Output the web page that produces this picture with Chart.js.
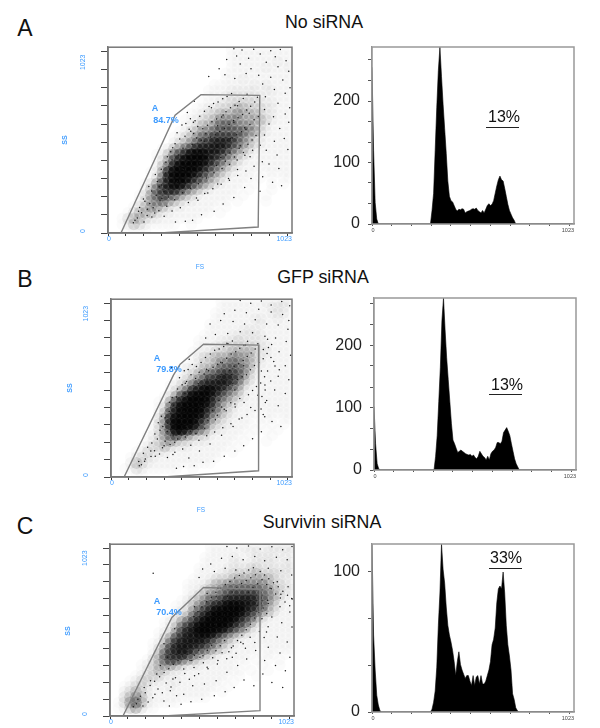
<!DOCTYPE html>
<html>
<head>
<meta charset="utf-8">
<script src="https://cdn.jsdelivr.net/npm/chart.js@4"></script>
<style>
html,body{margin:0;padding:0;background:#fff;overflow:hidden}
#page{position:relative;width:600px;height:728px;overflow:hidden;font-family:"Liberation Sans",Arial,sans-serif}
canvas{position:absolute}
.t{position:absolute;transform:translate(-50%,-50%);white-space:nowrap;color:#111}
.blue{color:#3d9bff}
.rule{position:absolute;height:1px;background:#222}
</style>
</head>
<body>
<div id="page"></div>
<script>
// values
const axisTicks = [0,100,200,300,400,500,600,700,800,900,1000];
const histTicksAB = [0,33,67,100,133,167,200,233,267];
const histTicksC = [0,33,67,100];
const histLabelsAB = [0,100,200];
const histLabelsC = [0,100];
const binWidth = 8;

const histA = [255,120,35,8,0,0,0,0,0,0,0,0,0,0,0,0,0,0,0,0,0,0,0,0,0,0,0,0,0,0,0,0,0,0,0,0,0,0,22,50,120,190,250,288,240,195,155,115,70,45,38,36,30,24,21,24,23,25,24,18,20,21,22,24,25,24,26,22,20,18,22,18,24,30,33,30,32,38,50,62,72,78,72,70,58,45,32,22,16,10,6,0,0,0,0,0,0,0,0,0,0,0,0,0,0,0,0,0,0,0,0,0,0,0,0,0,0,0,0,0,0,0,0,0,0,0,0,0];
const histB = [102,42,10,2,0,0,0,0,0,0,0,0,0,0,0,0,0,0,0,0,0,0,0,0,0,0,0,0,0,0,0,0,0,0,0,0,0,0,0,22,55,110,165,240,276,225,180,145,110,75,48,42,35,28,30,32,30,28,26,25,24,25,22,24,20,18,22,30,26,22,20,16,22,16,26,30,32,36,44,44,42,46,60,64,68,62,55,42,30,18,10,5,0,0,0,0,0,0,0,0,0,0,0,0,0,0,0,0,0,0,0,0,0,0,0,0,0,0,0,0,0,0,0,0,0,0,0,0];
const histC = [120,55,30,12,5,1,0,0,0,0,0,0,0,0,0,0,0,0,0,0,0,0,0,0,0,0,0,0,0,0,0,0,0,0,0,0,0,0,2,7,15,32,62,85,120,102,92,75,62,55,50,44,36,26,36,43,34,30,27,24,26,26,22,19,26,19,25,26,20,26,20,20,22,26,30,36,48,52,60,78,88,90,88,100,85,62,48,40,30,13,9,3,1,0,0,0,0,0,0,0,0,0,0,0,0,0,0,0,0,0,0,0,0,0,0,0,0,0,0,0,0,0,0,0,0,0,0,0];

// gate outlines, FS / SS channels
const gateA = [[72,0],[373,648],[517,762],[844,758],[835,33],[290,0]];
const gateB = [[74,0],[353,586],[391,649],[523,764],[836,759],[834,36],[296,0]];
const gateC = [[72,0],[344,587],[520,765],[834,755],[834,32],[298,0]];

// event density on a 32 x 32 grid, top row first, 0 empty to 9 darkest
const densityA = [
"00000000000000000000011111111111","00000000000000000000011111111111","00000000000000000000011111111211","00000000000000000000011111121112",
"00000000000000000000111111111111","00000000000000000000111211111111","00000000000000000011111112121111","00000000000000000111122222122111",
"00000000000000000111222222211111","00000000000000001112233333222111","00000000000000011223334433322111","00000000000000112334445444322111",
"00000000000001123345555444432111","00000000000001234456665554321111","00000000000012345566666655321111","00000000000123456677776543211111",
"00000000000234567788876543211111","00000000012456788888765432111111","00000000124678999887654321111111","00000000135789999876543211111111",
"00000000246899998765432111111111","00000001258999987654321111011111","00000001368999876543211110101011","00000013578998765432111101001010",
"00000024678876543211111010001000","00000135676654321111110100010000","00000235565432211111101000010000","00001345543221111110100000000000",
"00013444322111111101000000000000","00134432211111110000000000000000","00124321111100100000000000000000","00011110000000000000000000000000"];
const densityB = [
"00000000000000000001111111121222","00000000000000000001111111112221","00000000000000000011111111112221","00000000000000000011111112211211",
"00000000000000000111111111211111","00000000000000000111111222111111","00000000000000001111122222211111","00000000000000011112223222211111",
"00000000000000011122333333221111","00000000000000112233344443221111","00000000000000123344455443211111","00000000000001123345565543211111",
"00000000000012234456666542111111","00000000000012345667776532111111","00000000000123456778876431111111","00000000001234678888765321111111",
"00000000002356889987654211111111","00000000013578999876543211111111","00000000125789999865432111111111","00000000136899998764321111111111",
"00000000247899998654321111011111","00000000358999987543211110111011","00000001358999976432211110101010","00000001357998765322111101010100",
"00000012356765433211111010001000","00000012345433222111110100010000","00000123343222111111101000000000","00001232221111111111010000000000",
"00012322111111111110000000000000","00024321111111111100000000000000","00113211111100100000000000000000","00001100000000000000000000000000"];
const densityC = [
"00000000000000000111111212122222","00000000000000000111111122121212","00000000000000001111121112222121","00000000000000001111122122222122",
"00000000000000011111222233222222","00000000000000011112233334333222","00000000000000111233344444443221","00000000000001112344555555543322",
"00000000000001123445666666554322","00000000000001234556677777654321","00000000000012345667888887654211","00000000000112456788999887643211",
"00000000000123567899999876543111","00000000001234678999998765321111","00000000012356789999987653211111","00000000012467899999876532111111",
"00000000123578899987654321111111","00000000135778888765432111111111","00000001246788887654321111111111","00000001357888766543211111011111",
"00000002467787654321111110111010","00000013467765432211111101010100","00000123455432221111110100100100","00000123432221111111111010010000",
"00001233322111111111101001000000","00012332211211111111010000000000","00123321112111111110100000000000","00234321111111111101000000000000",
"00345421111111111000000000000000","01356421111100000000000000000000","01245311000000000000000000000000","00011000000000000000000000000000"];

// single events, outliers first and then the speckle along the cloud
const dotsA = [[700,1015],[745,1008],[810,1012],[905,1004],[958,1010],[660,955],[715,975],[782,962],[846,985],[930,970],[990,948],[618,905],[735,930],[795,905],[880,940],[945,915],[1005,890],[560,862],[650,872],[705,850],[768,878],[838,868],[905,858],[972,842],[1012,800],[860,820],[925,790],[985,770],[875,750],[945,715],[1010,690],[870,680],[920,640],[985,655],[895,600],[955,575],[1005,610],[870,540],[925,505],[980,520],[880,455],[940,430],[1000,460],[895,380],[950,355],[860,310],[915,280],[965,260],[845,230],[795,300],[760,250],[700,195],[640,160],[590,120],[520,100],[470,70],[430,65],[375,60],[720,350],[670,300],[610,270],[555,220],[500,180],[790,420],[735,480],[680,520],[610,590],[575,690],[640,650],[700,610],[760,580],[480,725],[400,405],[360,470],[320,330],[285,255],[205,175],[170,120],[460,560],[535,505],[420,350],[600,440],[655,430],[510,385],[450,340],[385,285],[330,420],[720,700],[785,660],[475,610],[360,300],[470,440],[540,400],[590,500],[300,190],[150,70],[200,60],[260,110],
[163,83],[187,112],[141,57],[218,97],[176,141],[232,163],[251,139],[197,187],[268,208],[243,231],[289,177],[311,229],[227,256],[274,283],[336,198],[298,264],[352,247],[319,301],[263,322],[381,276],[341,338],[408,253],[296,351],[367,329],[429,308],[384,371],[322,389],[451,281],[412,352],[356,402],[473,337],[438,391],[391,429],[349,447],[498,312],[461,418],[417,467],[373,491],[524,368],[487,402],[443,452],[399,518],[551,341],[509,441],[468,487],[428,533],[384,552],[578,397],[537,436],[492,523],[451,571],[411,594],[603,372],[562,468],[518,511],[476,548],[433,603],[627,416],[588,459],[544,547],[499,586],[458,629],[652,395],[613,483],[571,528],[527,574],[484,618],[441,664],[678,441],[639,489],[596,541],[553,593],[510,643],[703,419],[664,511],[621,559],[578,612],[536,671],[729,467],[691,523],[648,576],[604,628],[562,696],[753,443],[716,541],[673,597],[631,639],[587,713],[778,489],[742,558],[698,619],[656,668],[612,721],[801,512],[767,571],[723,634],[681,689],[638,739],[823,537],[789,598],[748,652],[706,703],[662,752],[812,623],[771,677],[729,724],[687,768],[836,641],[793,698],[752,741],[816,721],[773,764],[831,748],[219,131],[244,88],[283,122],[327,147],[371,183],[415,222],[459,246],[503,271],[547,303],[589,332],[634,355],[676,377],[718,402],[761,428],[804,455],[846,483],[312,92],[356,121],[402,139],[447,168],[492,193],[538,218],[583,243],[629,268],[675,291],[721,316],[767,342],[812,367],[858,392]];
const dotsB = [[730,1015],[790,1000],[850,1012],[905,990],[965,1010],[1010,985],[640,940],[700,960],[765,945],[835,965],[905,950],[970,935],[1005,900],[560,880],[620,900],[690,895],[755,880],[815,905],[880,880],[945,875],[1000,850],[535,800],[590,820],[660,825],[730,835],[800,830],[870,810],[930,800],[990,780],[890,745],[950,720],[1015,700],[860,680],[920,665],[985,640],[885,610],[945,580],[1005,560],[870,530],[925,500],[985,480],[880,440],[945,410],[860,360],[910,320],[960,290],[850,260],[800,220],[750,180],[700,150],[640,120],[580,90],[520,85],[470,65],[410,60],[370,50],[830,470],[790,400],[740,340],[690,290],[625,240],[560,190],[500,150],[440,110],[700,420],[640,390],[590,330],[530,280],[480,250],[420,230],[360,200],[300,180],[190,90],[160,65],[320,310],[285,350],[370,460],[330,430],[420,540],[620,540],[560,470],[480,510],[750,640],[680,590],[620,660],[540,620],[460,420],[400,330],[350,130],[250,120],[225,150],[700,500],[610,440],[510,410],[420,440],[655,770],[760,760],[340,630],
[172,71],[194,103],[157,89],[226,118],[183,137],[246,151],[207,171],[274,132],[231,196],[262,218],[291,169],[248,247],[306,206],[277,269],[334,187],[293,291],[351,238],[318,262],[267,312],[377,219],[339,307],[401,262],[306,341],[361,351],[426,291],[388,339],[329,377],[449,263],[413,378],[354,413],[472,324],[436,411],[395,443],[346,458],[497,296],[463,389],[418,481],[376,507],[521,352],[486,431],[441,468],[402,531],[548,327],[509,459],[467,506],[427,549],[387,571],[574,382],[533,447],[493,537],[452,588],[414,612],[601,356],[559,481],[517,526],[478,567],[436,619],[626,403],[586,471],[543,563],[498,603],[459,647],[651,381],[612,497],[569,546],[526,592],[483,636],[442,678],[677,427],[638,503],[595,559],[552,611],[509,659],[702,403],[663,527],[620,577],[577,631],[534,687],[728,451],[689,539],[646,593],[603,649],[561,708],[752,428],[714,561],[671,613],[629,657],[586,729],[777,473],[741,577],[696,637],[654,683],[611,737],[800,497],[766,589],[722,651],[679,707],[637,751],[822,521],[788,617],[747,671],[705,721],[661,767],[811,641],[770,693],[728,741],[686,783],[835,659],[792,713],[751,758],[815,737],[772,781],[830,766],[850,610],[868,577],[846,541],[871,501],[853,463],[872,428],[848,391],[869,347],[885,793],[908,763],[861,733],[882,711],[904,687],[927,639],[951,617],[903,553],[319,112],[361,143],[405,161],[451,183],[497,211],[541,237],[586,259],[632,283],[678,307],[724,333],[769,359],[814,383]];
const dotsC = [[650,1010],[705,1000],[770,1012],[835,995],[900,1008],[960,990],[1012,1010],[560,905],[620,940],[680,950],[740,930],[805,950],[860,925],[925,945],[985,930],[515,875],[580,860],[640,880],[700,870],[880,880],[950,865],[1010,840],[495,825],[930,800],[990,770],[890,760],[950,725],[1010,700],[880,670],[945,650],[1000,620],[900,590],[955,555],[1012,530],[870,500],[930,470],[985,440],[880,410],[945,375],[1000,350],[860,330],[920,300],[975,270],[850,250],[900,200],[960,170],[800,180],[745,215],[690,170],[640,145],[580,120],[510,100],[450,85],[395,70],[330,60],[280,300],[320,350],[260,250],[225,210],[190,170],[155,100],[130,55],[350,220],[410,280],[470,240],[525,190],[590,210],[650,260],[710,300],[760,340],[810,390],[740,430],[680,350],[600,330],[540,290],[455,330],[390,380],[335,150],[410,130],[460,180],[500,350],[250,130],[300,90],[370,120],[240,850],[620,640],[560,600],[680,555],[760,700],[820,660],[430,470],[480,420],[360,520],[300,430],[600,760],[540,730],[470,650],[590,710],
[183,59],[147,73],[212,84],[169,117],[238,109],[196,139],[267,161],[223,182],[291,139],[248,207],[312,197],[276,233],[339,173],[301,259],[364,228],[327,281],[389,201],[352,307],[416,253],[378,331],[441,219],[403,357],[467,289],[429,383],[493,251],[355,409],[519,317],[453,409],[383,435],[545,281],[478,437],[411,461],[571,347],[503,463],[439,487],[597,309],[529,489],[466,513],[623,377],[556,519],[492,541],[649,341],[583,547],[519,569],[467,593],[675,407],[609,573],[546,597],[489,621],[701,373],[637,601],[573,627],[511,649],[727,439],[663,629],[601,653],[537,681],[753,403],[691,657],[627,683],[563,707],[779,469],[717,683],[653,711],[589,737],[805,437],[743,711],[679,739],[615,761],[831,503],[769,737],[705,763],[641,783],[857,467],[795,763],[731,789],[667,801],[879,531],[821,787],[757,807],[693,821],[845,811],[783,823],[719,837],[871,783],[809,841],[745,851],[897,757],[835,861],[771,869],[921,727],[859,839],[797,883],[947,703],[883,817],[973,679],[909,793],[999,657],[935,769],[961,743],[987,719],[1013,697],[845,579],[871,611],[851,643],[876,689],[829,617],[805,583],[781,547],[757,513],[733,481],[709,449],[685,417],[661,383],[637,449],[613,419],[589,389],[565,421],[541,391],[517,359],[493,391],[469,361],[445,331]];

const densityShade = [0,.015,.03,.06,.11,.17,.25,.35,.48,.65];

const page = document.getElementById('page');

function addText(text,x,y,size,cls,extra){
  const d = document.createElement('div');
  d.className = 't '+(cls||'');
  d.textContent = text;
  d.style.left = x+'px';
  d.style.top = y+'px';
  d.style.fontSize = size+'px';
  if(extra) d.style.cssText += extra;
  page.appendChild(d);
}
function addRule(x1,x2,y){
  const d = document.createElement('div');
  d.className = 'rule';
  d.style.left = x1+'px';
  d.style.top = y+'px';
  d.style.width = (x2-x1)+'px';
  page.appendChild(d);
}
function addCanvas(l,t,w,h){
  const c = document.createElement('canvas');
  c.width = w; c.height = h;
  c.style.left = l+'px'; c.style.top = t+'px';
  c.style.width = w+'px'; c.style.height = h+'px';
  page.appendChild(c);
  return c;
}

const frame = color => ({
  id:'frame',
  afterDraw(chart){
    const a = chart.chartArea, g = chart.ctx;
    g.save();
    g.strokeStyle = color; g.lineWidth = 1.5;
    g.strokeRect(a.left,a.top,a.right-a.left,a.bottom-a.top);
    g.restore();
  }
});

function scatterPanel(b,density,dots,gate){
  const left = 50, top = 10, right = 10, bottom = 30;
  const canvas = addCanvas(b.l-left,b.t-top,b.w+left+right,b.h+top+bottom);
  const cloud = [], shades = [];
  density.forEach((row,r)=>{
    for(let c=0;c<32;c++){
      const v = +row[c];
      if(!v) continue;
      cloud.push({x:(c+.5)*1023/32,y:1023-(r+.5)*1023/32});
      shades.push('rgba(0,0,0,'+densityShade[v]+')');
    }
  });
  const edgeLabels = {
    id:'edgeLabels',
    afterDraw(chart){
      const g = chart.ctx, xs = chart.scales.x, ys = chart.scales.y, a = chart.chartArea;
      g.save();
      g.fillStyle = '#3d9bff';
      g.font = '7px "Liberation Sans"';
      g.textBaseline = 'middle';
      g.textAlign = 'center';
      g.fillText('0',xs.getPixelForValue(0)+1,a.bottom+6);
      g.textAlign = 'right';
      g.fillText('1023',xs.getPixelForValue(1023),a.bottom+6);
      g.textAlign = 'center';
      g.translate(a.left-25,ys.getPixelForValue(0)-2);
      g.rotate(-Math.PI/2);
      g.fillText('0',0,0);
      g.restore();
      g.save();
      g.fillStyle = '#3d9bff';
      g.font = '7px "Liberation Sans"';
      g.textAlign = 'center';
      g.textBaseline = 'middle';
      g.translate(a.left-25,ys.getPixelForValue(940));
      g.rotate(-Math.PI/2);
      g.fillText('1023',0,0);
      g.restore();
    }
  };
  return new Chart(canvas,{
    type:'scatter',
    data:{datasets:[
      {data:gate.map(p=>({x:p[0],y:p[1]})),showLine:true,borderColor:'#808080',borderWidth:1.4,pointRadius:0,order:0,tension:0},
      {data:dots.map(p=>({x:p[0],y:p[1]})),backgroundColor:'#1a1a1a',borderWidth:0,pointRadius:.75,order:1},
      {data:cloud,backgroundColor:shades,borderWidth:0,pointRadius:6,order:2}
    ]},
    options:{
      responsive:false,animation:false,
      layout:{padding:{top:top,right:right,left:0,bottom:0}},
      plugins:{legend:{display:false},tooltip:{enabled:false}},
      scales:{
        x:{type:'linear',min:0,max:1023,
          afterBuildTicks:s=>{s.ticks=axisTicks.map(v=>({value:v}))},
          afterFit:s=>{s.height=bottom},
          grid:{drawOnChartArea:false,color:'#333',tickLength:3},
          border:{color:'#777',width:1.5},
          ticks:{display:true,autoSkip:false,callback:()=>''}},
        y:{type:'linear',min:0,max:1023,
          afterBuildTicks:s=>{s.ticks=axisTicks.map(v=>({value:v}))},
          afterFit:s=>{s.width=left},
          grid:{drawOnChartArea:false,color:'#444',tickLength:7},
          border:{color:'#777',width:1.5},
          ticks:{display:true,autoSkip:false,callback:()=>''}}
      }
    },
    plugins:[frame('#777'),edgeLabels]
  });
}

function histPanel(b,values,yMax,ticks,labels){
  const left = 50, top = 6, right = 10, bottom = 18;
  const canvas = addCanvas(b.l-left,b.t-top,b.w+left+right,b.h+top+bottom);
  const edgeLabels = {
    id:'edgeLabels',
    afterDraw(chart){
      const g = chart.ctx, xs = chart.scales.x, a = chart.chartArea;
      g.save();
      g.fillStyle = '#444';
      g.font = '5.5px "Liberation Sans"';
      g.textBaseline = 'middle';
      g.textAlign = 'center';
      g.fillText('0',xs.getPixelForValue(0)+1,a.bottom+6);
      g.textAlign = 'right';
      g.fillText('1023',xs.getPixelForValue(1023),a.bottom+6);
      g.restore();
    }
  };
  return new Chart(canvas,{
    type:'line',
    data:{datasets:[{
      data:values.map((v,i)=>({x:i*binWidth,y:v})),
      borderColor:'#000',backgroundColor:'#000',borderWidth:.6,pointRadius:0,fill:'origin',tension:0
    }]},
    options:{
      responsive:false,animation:false,
      layout:{padding:{top:top,right:right,left:0,bottom:0}},
      plugins:{legend:{display:false},tooltip:{enabled:false}},
      scales:{
        x:{type:'linear',min:0,max:1023,
          afterBuildTicks:s=>{s.ticks=axisTicks.map(v=>({value:v}))},
          afterFit:s=>{s.height=bottom},
          grid:{drawOnChartArea:false,color:'#555',tickLength:2},
          border:{color:'#888',width:1.2},
          ticks:{autoSkip:false,callback:()=>''}},
        y:{type:'linear',min:0,max:yMax,
          afterBuildTicks:s=>{s.ticks=ticks.map(v=>({value:v}))},
          afterFit:s=>{s.width=left;s.paddingTop=0;s.paddingBottom=0},
          grid:{drawOnChartArea:false,color:'#555',tickLength:4},
          border:{color:'#888',width:1.2},
          ticks:{autoSkip:false,padding:8,color:'#222',font:{family:'Liberation Sans',size:16},
            callback:v=>labels.includes(v)?String(v):''}}
      }
    },
    plugins:[frame('#999'),edgeLabels]
  });
}

scatterPanel({l:108,t:47,w:184,h:186},densityA,dotsA,gateA);
scatterPanel({l:111,t:299,w:181,h:178},densityB,dotsB,gateB);
scatterPanel({l:110,t:544,w:184,h:172},densityC,dotsC,gateC);

histPanel({l:372,t:47,w:202,h:177},histA,288,histTicksAB,histLabelsAB);
histPanel({l:374,t:298,w:202,h:172},histB,276,histTicksAB,histLabelsAB);
histPanel({l:372,t:544,w:202,h:168},histC,120,histTicksC,histLabelsC);

addText('A',25,28,23);
addText('B',25,279,23);
addText('C',25,526,23);
addText('No siRNA',324,22,17.8);
addText('GFP siRNA',323,277,17.8);
addText('Survivin siRNA',322,522,17.8);

addText('13%',504,117,16);
addRule(486,519,127);
addText('13%',507,385,16);
addRule(489,522,394);
addText('33%',506,558,16);
addRule(489,522,568);

const bold = 'font-weight:bold;';
addText('A',155,108,9,'blue',bold);
addText('84.7%',166,120,9,'blue',bold);
addText('A',157,358,9,'blue',bold);
addText('79.8%',169,369,9,'blue',bold);
addText('A',157,601,9,'blue',bold);
addText('70.4%',169,612,9,'blue',bold);

addText('FS',200,266,6.5,'blue');
addText('FS',201,509,6.5,'blue');
addText('SS',64,140,7,'blue',bold+'transform:translate(-50%,-50%) rotate(-90deg);');
addText('SS',69,388,7,'blue',bold+'transform:translate(-50%,-50%) rotate(-90deg);');
addText('SS',67,631,7,'blue',bold+'transform:translate(-50%,-50%) rotate(-90deg);');
</script>
</body>
</html>
